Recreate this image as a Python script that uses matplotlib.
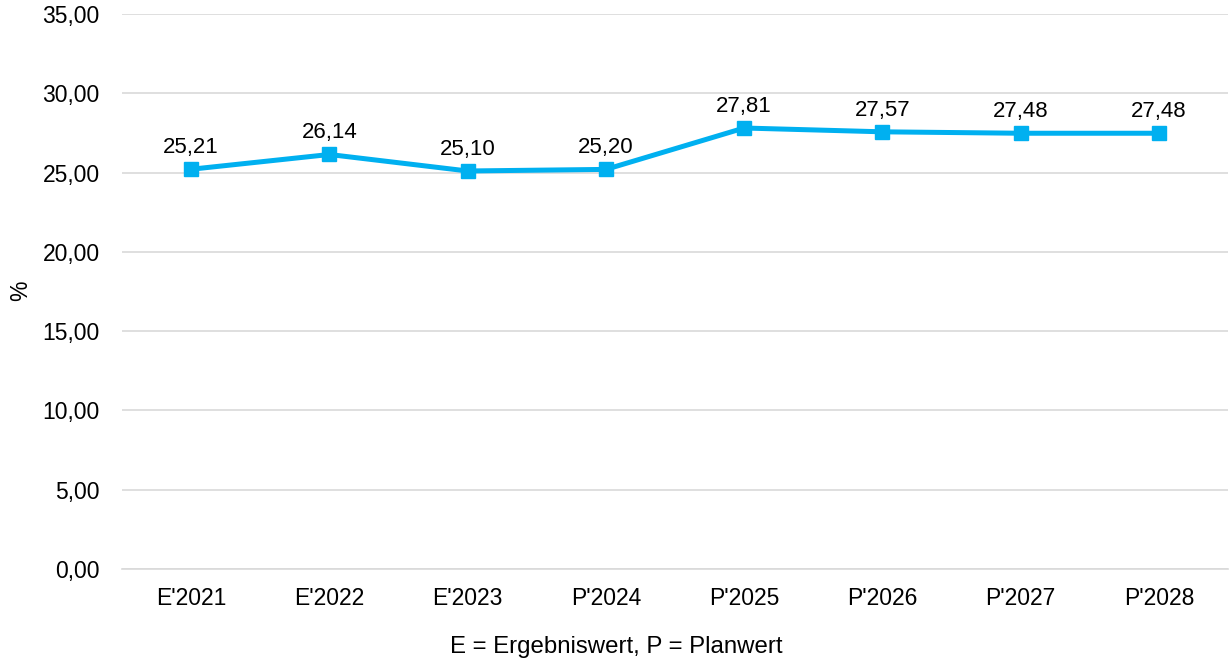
import matplotlib.pyplot as plt
from matplotlib.ticker import FuncFormatter

plt.rcParams['font.family'] = ['Liberation Sans', 'DejaVu Sans']

# Data
categories = ["E'2021", "E'2022", "E'2023", "P'2024", "P'2025", "P'2026", "P'2027", "P'2028"]
values = [25.21, 26.14, 25.10, 25.20, 27.81, 27.57, 27.48, 27.48]

def de_fmt(v, pos=None):
    return f"{v:.2f}".replace('.', ',')

fig = plt.figure(figsize=(12.32, 6.63), dpi=100)
ax = fig.add_axes([122 / 1232, 94 / 663, 1106 / 1232, 555 / 663])

x = list(range(len(categories)))
ax.plot(x, values, color='#00B0F0', linewidth=3.6, marker='s', markersize=10, zorder=3)
for xi, v in zip(x, values):
    ax.annotate(de_fmt(v), (xi, v), xytext=(0, 8), textcoords='offset points',
                ha='center', va='bottom', fontsize=16, color='black')

ax.set_xlim(-0.5, len(categories) - 0.5)
ax.set_ylim(0, 35)
ax.set_yticks([0, 5, 10, 15, 20, 25, 30, 35])
ax.yaxis.set_major_formatter(FuncFormatter(de_fmt))
ax.set_xticks(x)
ax.set_xticklabels(categories)
ax.grid(axis='y', color='#D9D9D9', linewidth=1.2, zorder=0)
ax.set_axisbelow(True)
for s in ['top', 'right', 'left']:
    ax.spines[s].set_visible(False)
ax.spines['bottom'].set_color('#D9D9D9')
ax.spines['bottom'].set_linewidth(1.2)
ax.tick_params(axis='both', length=0, labelsize=16.5, colors='black')
ax.tick_params(axis='x', pad=13)
ax.tick_params(axis='y', pad=16)

fig.text(21 / 1232, 1 - 291 / 663, '%', rotation=90, ha='center', va='center', fontsize=16.5)
fig.text(0.5, 1 - 647 / 663, 'E = Ergebniswert, P = Planwert', ha='center', va='center', fontsize=17.3)

fig.savefig('out.png', dpi=100)
